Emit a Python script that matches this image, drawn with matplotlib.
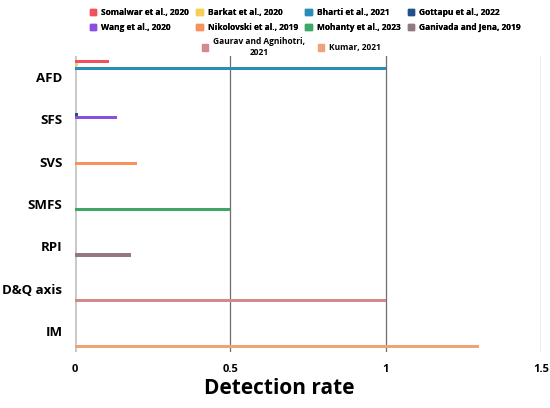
import matplotlib.pyplot as plt
from matplotlib.patches import Patch

plt.rcParams['font.family'] = ['Open Sans', 'DejaVu Sans']

# data
categories = ['AFD', 'SFS', 'SVS', 'SMFS', 'RPI', 'D&Q axis', 'IM']
studies = ['Somalwar et al., 2020', 'Barkat et al., 2020', 'Bharti et al., 2021',
           'Gottapu et al., 2022', 'Wang et al., 2020', 'Nikolovski et al., 2019',
           'Mohanty et al., 2023', 'Ganivada and Jena, 2019',
           'Gaurav and Agnihotri,\n2021', 'Kumar, 2021']
# detection rate of each study, one value per category (0 = not reported)
somalwar   = [0.11, 0, 0, 0, 0, 0, 0]
barkat     = [0.01, 0, 0, 0, 0, 0, 0]
bharti     = [1.0, 0, 0, 0, 0, 0, 0]
gottapu    = [0, 0.01, 0, 0, 0, 0, 0]
wang       = [0, 0.135, 0, 0, 0, 0, 0]
nikolovski = [0, 0, 0.2, 0, 0, 0, 0]
mohanty    = [0, 0, 0, 0.5, 0, 0, 0]
ganivada   = [0, 0, 0, 0, 0.18, 0, 0]
gaurav     = [0, 0, 0, 0, 0, 1.0, 0]
kumar      = [0, 0, 0, 0, 0, 0, 1.3]
series = [somalwar, barkat, bharti, gottapu, wang, nikolovski,
          mohanty, ganivada, gaurav, kumar]
xticks = [0, 0.5, 1, 1.5]

colors = ['#f2505d', '#f5cf5a', '#2a8db5', '#23508a', '#8a4fe0', '#f7925c',
          '#3fa766', '#927880', '#d48a88', '#eea477']

fig = plt.figure(figsize=(5.5, 4.08), dpi=100)
ax = fig.add_axes([75/550, 1 - 352/408, 466/550, 296/408])

slot = 0.0825
n = len(series)
for k, vals in enumerate(series):
    ys = [i + (k - (n - 1) / 2) * slot for i in range(len(categories))]
    ax.barh(ys, vals, height=0.072, color=colors[k], zorder=3)

ax.set_ylim(6.5, -0.5)
ax.set_xlim(0, 1.5)
ax.set_yticks(range(len(categories)))
ax.set_yticklabels(categories, fontsize=9.5, fontweight='bold')
ax.set_xticks(xticks)
ax.set_xticklabels(['0', '0.5', '1', '1.5'], fontsize=8, fontweight='bold')
ax.tick_params(axis='both', length=0)
ax.tick_params(axis='y', pad=9)
ax.tick_params(axis='x', pad=9)
for s in ax.spines.values():
    s.set_visible(False)
ax.xaxis.grid(True, color='#6e6e6e', lw=0.9, zorder=1)
ax.axvline(0, color='#c8c8c8', lw=2, zorder=2)

fig.text(279/550, 1 - 388/408, 'Detection rate', ha='center', va='center',
         fontsize=15, fontweight='bold')

# legend: two full rows plus a centred short row
handles = [Patch(color=c) for c in colors]
order = [0, 4, 1, 5, 2, 6, 3, 7]
lprop = {'size': 6, 'weight': 'bold'}
leg1 = fig.legend([handles[i] for i in order], [studies[i] for i in order],
                  ncol=4, loc='upper center', bbox_to_anchor=(0.555, 1.0),
                  frameon=False, prop=lprop,
                  handlelength=0.75, handleheight=0.75, columnspacing=0.9,
                  labelspacing=0.75, handletextpad=0.6, borderpad=0.45)
fig.add_artist(leg1)
leg2 = fig.legend(handles[8:], studies[8:], ncol=2, loc='upper center',
                  bbox_to_anchor=(0.53, 1 - 33/408), frameon=False,
                  prop=lprop, handlelength=0.75, handleheight=0.75,
                  columnspacing=1.5, handletextpad=0.6, borderpad=0.0)
for t in leg2.get_texts():
    t.set_multialignment('center')

fig.savefig('out.png', dpi=100)
